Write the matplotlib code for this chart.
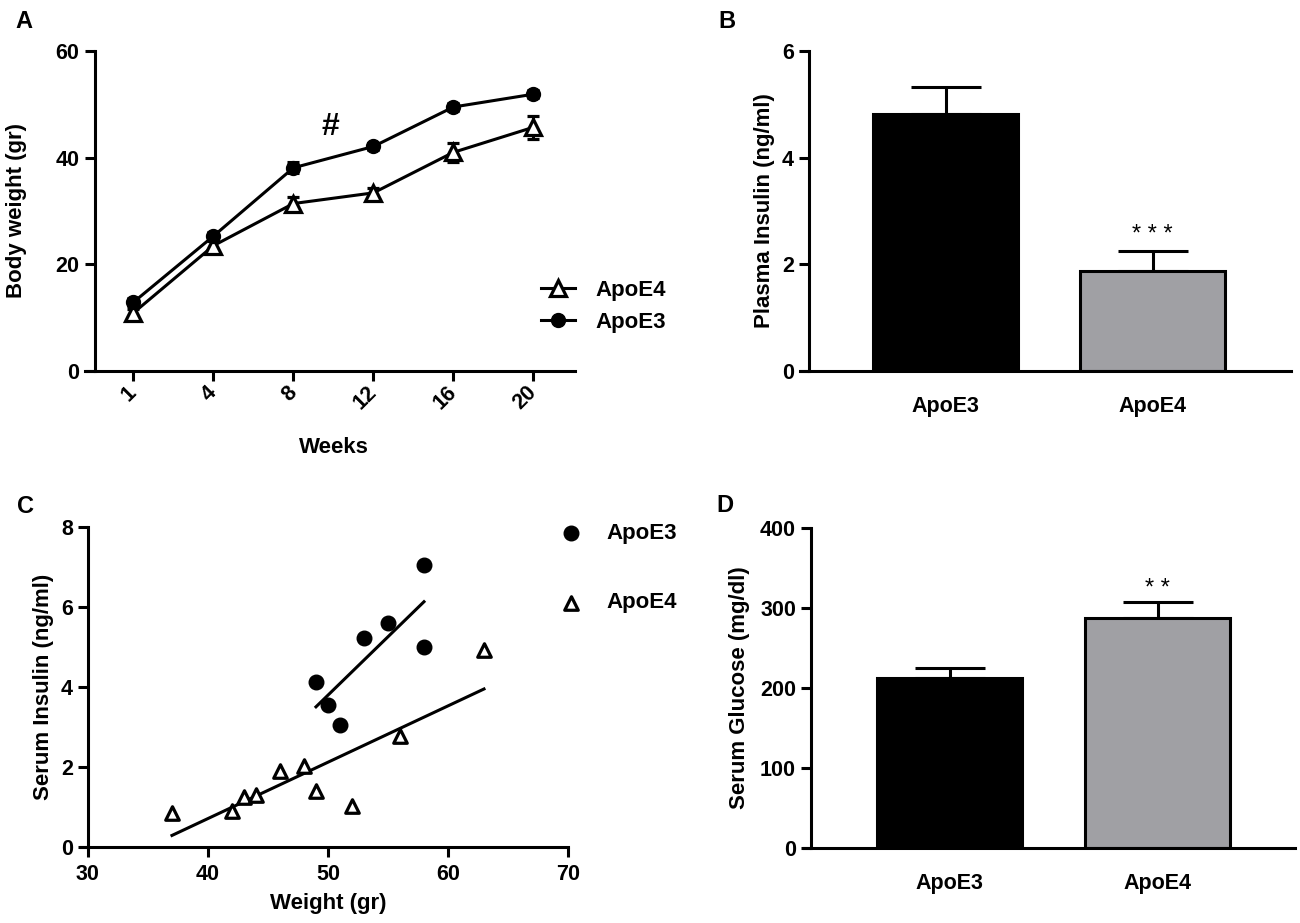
import matplotlib
matplotlib.use('Agg')
import matplotlib.pyplot as plt
import numpy as np

plt.rcParams['font.family'] = ['Liberation Sans', 'DejaVu Sans']
plt.rcParams['font.weight'] = 'bold'
plt.rcParams['axes.labelweight'] = 'bold'

# ---------------- data ----------------
weeks = ['1', '4', '8', '12', '16', '20']
apoe3_bw = [12.9, 25.3, 38.1, 42.1, 49.5, 51.9]
apoe3_bw_err = [0.8, 0.8, 1.0, 0.7, 0.7, 0.7]
apoe4_bw = [10.9, 23.5, 31.4, 33.4, 41.0, 45.7]
apoe4_bw_err = [0.8, 0.8, 1.2, 1.0, 1.8, 2.2]

groups = ['ApoE3', 'ApoE4']
plasma_insulin = [4.82, 1.87]
plasma_insulin_err = [0.50, 0.38]
serum_glucose = [212, 287]
serum_glucose_err = [13, 20]

e3_weight = [49, 50, 51, 53, 55, 58, 58]
e3_insulin = [4.12, 3.54, 3.05, 5.22, 5.60, 7.06, 4.99]
e4_weight = [37, 42, 43, 44, 46, 48, 49, 52, 56, 63]
e4_insulin = [0.85, 0.91, 1.26, 1.30, 1.91, 2.02, 1.40, 1.02, 2.78, 4.93]

GRAY = '#a0a0a4'
LW = 2.2
TICK_FS = 15.5
LABEL_FS = 16

W, H = 1300, 923
fig = plt.figure(figsize=(13, 9.23), dpi=100)


def rect(x0, y_top, x1, y_bot):
    return [x0 / W, 1 - y_bot / H, (x1 - x0) / W, (y_bot - y_top) / H]


def style(ax):
    for s in ['top', 'right']:
        ax.spines[s].set_visible(False)
    for s in ['left', 'bottom']:
        ax.spines[s].set_linewidth(LW)
    ax.tick_params(width=LW, length=7.2, labelsize=TICK_FS, direction='out', pad=3.6)


# ---------------- Panel A ----------------
axA = fig.add_axes(rect(85, 51, 575, 371))
style(axA)
xA = np.arange(len(weeks))
eb4 = axA.errorbar(xA, apoe4_bw, yerr=apoe4_bw_err, color='black', lw=LW, marker='^', ms=11,
                   mfc='white', mec='black', mew=2.3, capsize=4.5, capthick=LW, elinewidth=LW,
                   label='ApoE4', zorder=3)
eb3 = axA.errorbar(xA, apoe3_bw, yerr=apoe3_bw_err, color='black', lw=LW, marker='o', ms=10,
                   capsize=4.5, capthick=LW, elinewidth=LW, label='ApoE3', zorder=4)
axA.set_xlim(-0.606, 5.52)
axA.set_ylim(0, 60)
axA.spines['left'].set_position(('axes', 0.0196))
axA.set_xticks(xA)
axA.set_xticklabels(weeks, rotation=45, ha='right', va='center', rotation_mode='anchor')
axA.tick_params(axis='x', pad=6)
axA.set_yticks([0, 20, 40, 60])
axA.set_ylabel('Body weight (gr)', fontsize=LABEL_FS)
axA.yaxis.set_label_coords(-0.118, 0.5)
axA.set_xlabel('Weeks', fontsize=LABEL_FS)
axA.xaxis.set_label_coords(0.508, -0.206)
axA.text(2.46, 44.3, '#', fontsize=23, ha='center', va='baseline')
axA.legend(handles=[eb4[0], eb3[0]], labels=['ApoE4', 'ApoE3'],
           loc='center left', bbox_to_anchor=(541 / W, 1 - 306.5 / H),
           bbox_transform=fig.transFigure, frameon=False, fontsize=LABEL_FS,
           borderpad=0, borderaxespad=0, handlelength=1.55, handletextpad=0.9,
           labelspacing=0.5)

# ---------------- Panel B ----------------
axB = fig.add_axes(rect(800, 51, 1291, 371))
style(axB)
xB = np.arange(len(groups))
axB.bar(xB, plasma_insulin, width=0.70, color=['black', GRAY], edgecolor='black',
        linewidth=LW, zorder=2)
axB.errorbar(xB, plasma_insulin, yerr=[[0, 0], plasma_insulin_err], fmt='none',
             ecolor='black', elinewidth=LW, capsize=25, capthick=LW, zorder=1)
axB.set_xlim(-0.703, 1.669)
axB.set_ylim(0, 6)
axB.spines['left'].set_position(('axes', 0.0183))
axB.set_xticks(xB)
axB.set_xticklabels(groups)
axB.tick_params(axis='x', length=0, pad=18)
axB.set_yticks([0, 2, 4, 6])
axB.set_ylabel('Plasma Insulin (ng/ml)', fontsize=LABEL_FS)
axB.yaxis.set_label_coords(-0.05, 0.5)
axB.text(1, 2.43, '* * *', fontsize=17, fontweight='normal', ha='center', va='baseline')

# ---------------- Panel C ----------------
axC = fig.add_axes(rect(81, 527, 568, 847))
style(axC)
axC.scatter(e3_weight, e3_insulin, s=110, color='black', marker='o', zorder=3,
            label='ApoE3', clip_on=False)
axC.scatter(e4_weight, e4_insulin, s=95, facecolor='white', edgecolor='black',
            linewidth=2.3, marker='^', zorder=3, label='ApoE4', clip_on=False)
for xs, ys in [(e3_weight, e3_insulin), (e4_weight, e4_insulin)]:
    k, b = np.polyfit(xs, ys, 1)
    xx = np.array([min(xs), max(xs)])
    axC.plot(xx, k * xx + b, color='black', lw=LW, zorder=2)
axC.set_xlim(29.42, 70)
axC.set_ylim(0, 8)
axC.spines['left'].set_position(('data', 30))
axC.set_xticks([30, 40, 50, 60, 70])
axC.set_yticks([0, 2, 4, 6, 8])
axC.tick_params(axis='x', pad=5)
axC.set_ylabel('Serum Insulin (ng/ml)', fontsize=LABEL_FS)
axC.yaxis.set_label_coords(-0.055, 0.5)
axC.set_xlabel('Weight (gr)', fontsize=LABEL_FS)
axC.xaxis.set_label_coords(0.507, -0.145)
axC.legend(loc='center left', bbox_to_anchor=(560 / W, 1 - 568 / H),
           bbox_transform=fig.transFigure, frameon=False, fontsize=LABEL_FS,
           borderpad=0, borderaxespad=0, handlelength=1.0, handletextpad=1.1,
           labelspacing=2.2, scatterpoints=1)

# ---------------- Panel D ----------------
axD = fig.add_axes(rect(804, 528, 1295, 848))
style(axD)
xD = np.arange(len(groups))
axD.bar(xD, serum_glucose, width=0.70, color=['black', GRAY], edgecolor='black',
        linewidth=LW, zorder=2)
axD.errorbar(xD, serum_glucose, yerr=[[0, 0], serum_glucose_err], fmt='none',
             ecolor='black', elinewidth=LW, capsize=25, capthick=LW, zorder=1)
axD.set_xlim(-0.70, 1.661)
axD.set_ylim(0, 400)
axD.spines['left'].set_position(('axes', 0.0143))
axD.set_xticks(xD)
axD.set_xticklabels(groups)
axD.tick_params(axis='x', length=0, pad=18)
axD.set_yticks([0, 100, 200, 300, 400])
axD.set_ylabel('Serum Glucose (mg/dl)', fontsize=LABEL_FS)
axD.yaxis.set_label_coords(-0.11, 0.5)
axD.text(1, 316, '* *', fontsize=17, fontweight='normal', ha='center', va='baseline')

# ---------------- panel letters ----------------
for letter, px, py in [('A', 15, 28), ('B', 718, 28), ('C', 17, 513), ('D', 716, 512)]:
    fig.text(px / W, 1 - py / H, letter, fontsize=17, fontweight='bold', va='baseline')

fig.savefig('out.png', dpi=100)
